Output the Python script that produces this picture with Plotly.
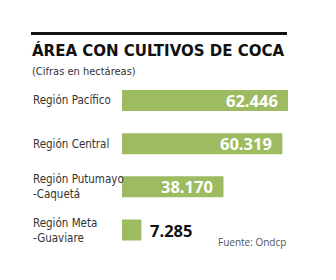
import plotly.graph_objects as go

categories = ["Región Pacífico", "Región Central", "Región Putumayo<br>-Caquetá", "Región Meta<br>-Guaviare"]
values = [62446, 60319, 38170, 7285]
title = "ÁREA CON CULTIVOS DE COCA"
subtitle = "(Cifras en hectáreas)"
source = "Fuente: Ondcp"

W, H = 336, 280
BAR = "#9dbb61"
NARROW = "DejaVu Sans Condensed, Roboto, sans-serif"

def fmt(v):
    return f"{v:,}".replace(",", ".")

fig = go.Figure(go.Bar(
    y=categories, x=values, orientation="h",
    marker=dict(color=BAR, line=dict(width=0)),
    hoverinfo="skip",
))

anns = []
for c, v in zip(categories, values):
    anns.append(dict(xref="paper", x=31 / W, xanchor="left", yref="y", y=c,
                     text=c, showarrow=False, align="left",
                     font=dict(family=NARROW, size=11.5, color="#333333")))
    inside = v > 20000
    anns.append(dict(xref="x", x=v, yref="y", y=c,
                     xanchor="right" if inside else "left",
                     xshift=-8 if inside else 7,
                     text=f"<b>{fmt(v)}</b>", showarrow=False,
                     font=dict(family="Open Sans, sans-serif", size=16.5,
                               color="#ffffff" if inside else "#111111")))

anns.append(dict(xref="paper", yref="paper", x=30 / W, y=1 - 50 / H,
                 xanchor="left", yanchor="middle", showarrow=False,
                 text=f"<b>{title}</b>",
                 font=dict(family=NARROW, size=16.7, color="#111111")))
anns.append(dict(xref="paper", yref="paper", x=30 / W, y=1 - 71 / H,
                 xanchor="left", yanchor="middle", showarrow=False,
                 text=subtitle,
                 font=dict(family=NARROW, size=11, color="#333333")))
anns.append(dict(xref="paper", yref="paper", x=288 / W, y=1 - 242 / H,
                 xanchor="right", yanchor="middle", showarrow=False,
                 text=source,
                 font=dict(family="Open Sans, sans-serif", size=10, color="#555555")))

fig.update_layout(
    width=W, height=H,
    margin=dict(l=0, r=0, t=0, b=0),
    paper_bgcolor="white", plot_bgcolor="white",
    showlegend=False,
    bargap=0.514,
    xaxis=dict(domain=[122 / W, 288 / W], range=[0, values[0]],
               visible=False, fixedrange=True),
    yaxis=dict(domain=[1 - 251.6 / H, 1 - 78.9 / H], autorange="reversed",
               visible=False, fixedrange=True),
    annotations=anns,
    shapes=[dict(type="line", xref="paper", yref="paper",
                 x0=31 / W, x1=287 / W, y0=1 - 33.5 / H, y1=1 - 33.5 / H,
                 line=dict(color="#111111", width=3))],
)

fig.write_html("out.html", config={"displayModeBar": False, "staticPlot": True})
